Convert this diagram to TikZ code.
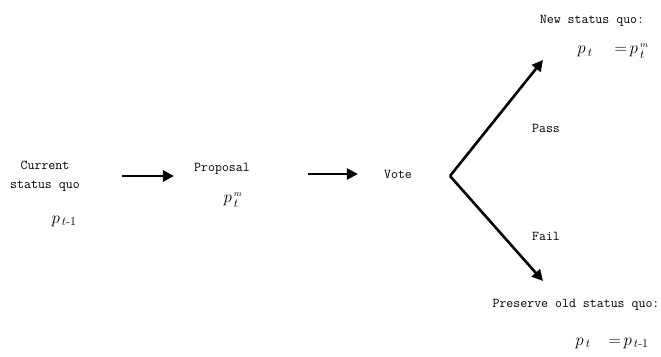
\RequirePackage{fix-cm}
\documentclass[tikz,border=0pt]{standalone}
\usepackage{amsmath}
\usetikzlibrary{arrows.meta}

\tikzset{
  lbl/.style={font=\fontsize{13.5}{17}\selectfont\ttfamily, inner sep=1pt, align=center},
  eqn/.style={font=\fontsize{17}{20}\selectfont, inner sep=1pt},
  arr/.style={line width=2.6pt, -{Triangle[length=11pt,width=11pt]}}
}

\begin{document}
\begin{tikzpicture}[x=1pt,y=-1pt]
\useasboundingbox (0,0) rectangle (661,356);

% left: current state
\node[lbl] (cur) at (45,176) {Current\\[2pt]status quo};
\node[eqn] (pold) at (64,221) {$p_{\,t\text{-}1}$};

% proposal
\node[lbl] (prop) at (222,169) {Proposal};
\node[eqn] (pprop) at (233,200) {$p_{\,t}^{\,\scriptscriptstyle m}$};

\node[lbl] (vote) at (398,174) {Vote};

\draw[arr, shorten <=41pt, shorten >=19pt] (cur.east) -- (prop.west |- cur.east);
\draw[arr, shorten <=57pt, shorten >=25pt] (prop.east |- vote) -- (vote.west);

% the fork
\coordinate (fork) at (450,176);
\coordinate (uptip) at (543,60);
\coordinate (lowtip) at (543,281);
\draw[arr] (fork) -- (uptip);
\draw[arr] (fork) -- (lowtip);

\node[lbl] (pass) at (546,128) {Pass};
\node[lbl] (fail) at (546,236) {Fail};

% outcomes
\node[lbl] (newsq) at (592,21) {New status quo:};
\node[eqn] (pnew) at (613,51) {$p_{\,t}\hspace{22pt}{=}\,p_{\,t}^{\,\scriptscriptstyle m}$};

\node[lbl] (oldsq) at (576,305) {Preserve old status quo:};
\node[eqn] (pkeep) at (612,343) {$p_{\,t}\hspace{18pt}{=}\,p_{\,t\text{-}1}$};
\end{tikzpicture}
\end{document}
